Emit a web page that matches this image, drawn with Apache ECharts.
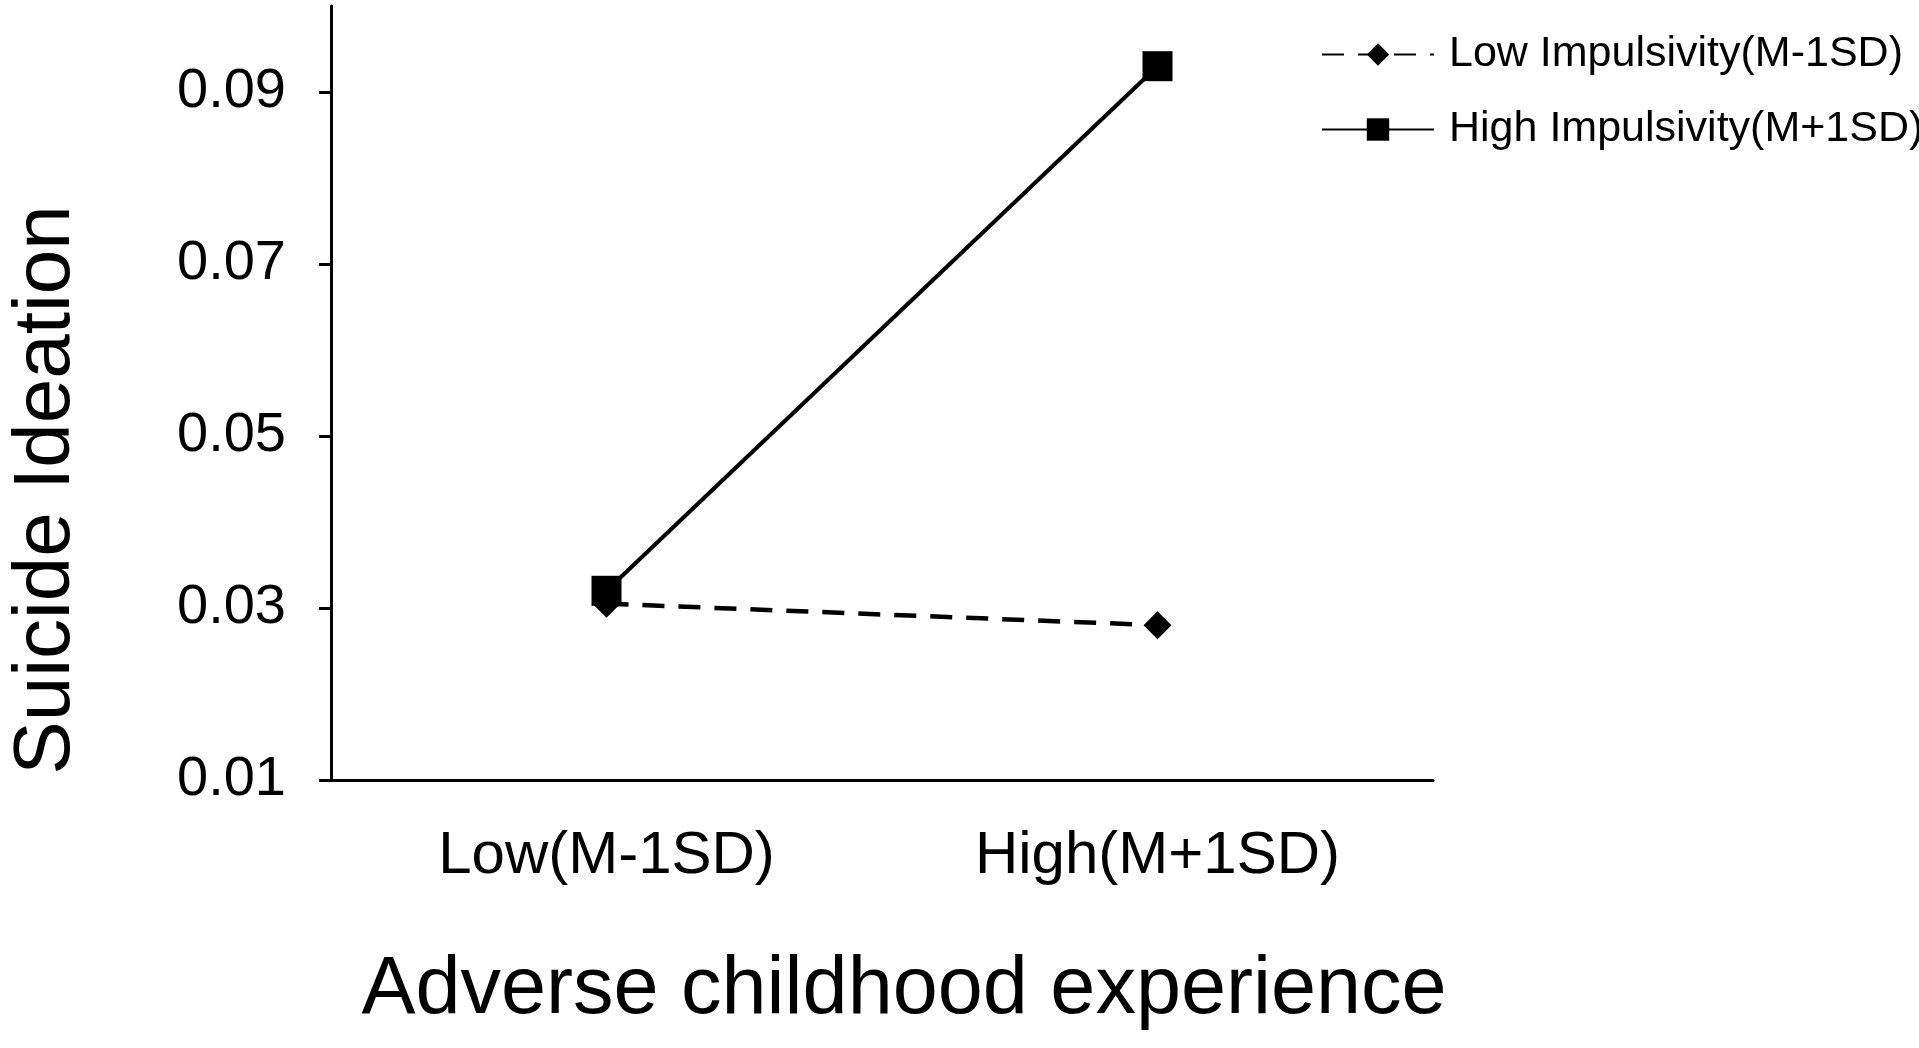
<!DOCTYPE html>
<html><head><meta charset="utf-8">
<script src="https://cdn.jsdelivr.net/npm/echarts@6/dist/echarts.min.js"></script>
<style>html,body{margin:0;padding:0;background:#fff}#c{width:1919px;height:1048px}</style>
</head><body><div id="c"></div>
<script>
const categories = ['Low(M-1SD)', 'High(M+1SD)'];
const lowImpulsivity = [0.0305, 0.028];
const highImpulsivity = [0.032, 0.093];
const seriesNames = ['Low Impulsivity(M-1SD)', 'High Impulsivity(M+1SD)'];
const yTitle = 'Suicide Ideation';
const chart = echarts.init(document.getElementById('c'));
const F = 'Liberation Sans, Arial, sans-serif';
chart.setOption({
  animation:false,
  backgroundColor:'#fff',
  grid:{left:331,right:486,top:6,bottom:268},
  legend:{orient:'vertical',left:1316,top:28,itemWidth:112,itemHeight:28,itemGap:32,
    textStyle:{fontFamily:F,fontSize:43,color:'#000',padding:[0,0,0,10]},
    data:seriesNames},
  graphic:[{type:'text',x:47,y:490,rotation:Math.PI/2,
    style:{text:yTitle,fontFamily:F,fontSize:80,fill:'#000',align:'center',verticalAlign:'middle'}}],
  xAxis:{type:'category',data:categories,boundaryGap:true,
    axisLine:{lineStyle:{color:'#000',width:3}},
    axisTick:{alignWithLabel:true,length:10,lineStyle:{width:3,color:'#000'},interval:0},
    axisLabel:{fontFamily:F,fontSize:60,color:'#000',margin:46},
    name:'Adverse childhood experience',nameLocation:'middle',nameGap:170,
    nameTextStyle:{fontFamily:F,fontSize:81,color:'#000',padding:[0,0,0,44]}},
  yAxis:{type:'value',min:0.01,max:0.1,interval:0.02,
    axisLine:{show:true,lineStyle:{color:'#000',width:3}},
    axisTick:{show:true,length:12,lineStyle:{width:3,color:'#000'}},
    splitLine:{show:false},
    axisLabel:{fontFamily:F,fontSize:56,color:'#000',margin:45,showMaxLabel:false,
      formatter:v=>v.toFixed(2)}},
  series:[
    {name:seriesNames[0],type:'line',data:lowImpulsivity,symbol:'diamond',symbolSize:28,
     lineStyle:{color:'#000',width:4.5,type:[22,14]},itemStyle:{color:'#000'}},
    {name:seriesNames[1],type:'line',data:highImpulsivity,symbol:'rect',symbolSize:30,
     lineStyle:{color:'#000',width:4},itemStyle:{color:'#000'}}
  ]
});
</script></body></html>
